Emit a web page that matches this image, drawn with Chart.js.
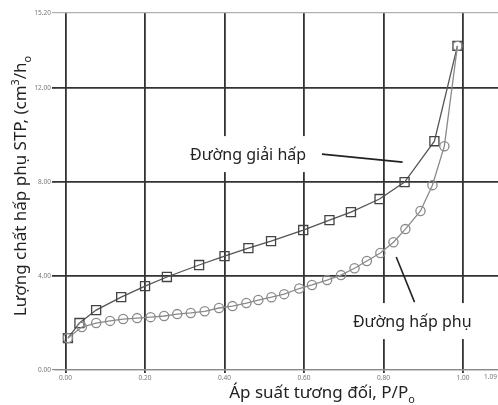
<!DOCTYPE html>
<html>
<head>
<meta charset="utf-8">
<script src="https://cdn.jsdelivr.net/npm/chart.js@4/dist/chart.umd.min.js"></script>
<style>
  html, body { margin: 0; padding: 0; background: #fff; }
  #wrap { width: 498px; height: 405px; }
</style>
</head>
<body>
<div id="wrap"><canvas id="isotherm"></canvas></div>
<script>
// nhánh hấp phụ (tròn) và giải hấp (vuông)
const hapPhuX = [0.006, 0.041, 0.077, 0.112, 0.145, 0.180, 0.214, 0.248, 0.281, 0.315, 0.350, 0.386, 0.420, 0.455, 0.485,
                 0.518, 0.550, 0.588, 0.620, 0.658, 0.693, 0.727, 0.758, 0.792, 0.825, 0.855, 0.893, 0.923, 0.953, 0.986];
const hapPhuY = [1.36, 1.83, 2.00, 2.09, 2.17, 2.21, 2.25, 2.30, 2.38, 2.43, 2.50, 2.64, 2.72, 2.85, 2.98,
                 3.10, 3.23, 3.47, 3.62, 3.83, 4.04, 4.33, 4.64, 4.98, 5.44, 6.00, 6.77, 7.87, 9.53, 13.80];
const giaiHapX = [0.006, 0.035, 0.077, 0.140, 0.200, 0.255, 0.336, 0.400, 0.460, 0.517, 0.598, 0.664, 0.718, 0.790, 0.853, 0.928, 0.986];
const giaiHapY = [1.36, 2.00, 2.55, 3.10, 3.57, 3.96, 4.47, 4.85, 5.19, 5.49, 5.96, 6.38, 6.72, 7.28, 8.00, 9.74, 13.80];

const xTicks = [0, 0.2, 0.4, 0.6, 0.8, 1.0, 1.088];
const yTicks = [0, 4, 8, 12, 15.2];

const X_MIN = -0.024, X_MAX = 1.088;
const FONT = '"Noto Sans", "Open Sans", sans-serif';
const TICK_FONT = { family: FONT, size: 6.5 };

const toPoints = (xs, ys) => xs.map((x, i) => ({ x: x, y: ys[i] }));

// nhãn chú thích, toạ độ theo đơn vị dữ liệu
const notes = [
    { text: 'Đường giải hấp', at: [0.313, 9.15], from: [0.645, 9.19], to: [0.848, 8.85] },
    { text: 'Đường hấp phụ', at: [0.723, 2.04], from: [0.832, 4.81], to: [0.878, 2.89] }
];

// vẽ chuỗi có chỉ số trên/dưới, căn giữa tại gốc toạ độ hiện tại
function drawRich(ctx, parts, size) {
    const small = size * 0.64;
    let width = 0;
    parts.forEach(p => {
        ctx.font = `${p[1] ? small : size}px ${FONT}`;
        width += ctx.measureText(p[0]).width;
    });
    let x = -width / 2;
    ctx.textBaseline = 'alphabetic';
    ctx.textAlign = 'left';
    parts.forEach(p => {
        ctx.font = `${p[1] ? small : size}px ${FONT}`;
        const dy = p[1] === 'sup' ? -size * 0.4 : p[1] === 'sub' ? size * 0.3 : 0;
        ctx.fillText(p[0], x, size * 0.35 + dy);
        x += ctx.measureText(p[0]).width;
    });
}

const decorations = {
    id: 'decorations',
    afterDatasetsDraw(chart) {
        const { ctx, scales } = chart;
        const sx = scales.x, sy = scales.y;
        ctx.save();

        // nhãn vạch ở mép phải, đẩy vào trong để không bị cắt
        ctx.fillStyle = '#777';
        ctx.font = `${TICK_FONT.size}px ${TICK_FONT.family}`;
        ctx.textAlign = 'right';
        ctx.textBaseline = 'top';
        xTicks.filter(v => v > 1.01).forEach(v => {
            const label = v.toFixed(2);
            const w = ctx.measureText(label).width;
            const right = Math.min(sx.getPixelForValue(v) + w / 2, chart.width - 1);
            ctx.fillText(label, right, sx.top + 4);
        });

        // tiêu đề trục
        ctx.fillStyle = '#222';
        ctx.save();
        ctx.translate(20, 186);
        ctx.rotate(-Math.PI / 2);
        drawRich(ctx, [['Lượng chất hấp phụ STP, (cm'], ['3', 'sup'], ['/h'], ['o', 'sub']], 17);
        ctx.restore();

        ctx.save();
        ctx.translate(322, 392);
        drawRich(ctx, [['Áp suất tương đối, P/P'], ['o', 'sub']], 17);
        ctx.restore();

        // chú thích và đường dẫn
        ctx.font = `16px ${FONT}`;
        notes.forEach(n => {
            const x = sx.getPixelForValue(n.at[0]);
            const y = sy.getPixelForValue(n.at[1]);
            const w = ctx.measureText(n.text).width;
            ctx.fillStyle = '#fff';
            ctx.fillRect(x - 8, y - 19, w + 16, 36);
            ctx.fillStyle = '#222';
            ctx.textAlign = 'left';
            ctx.textBaseline = 'middle';
            ctx.fillText(n.text, x, y);
            ctx.beginPath();
            ctx.moveTo(sx.getPixelForValue(n.from[0]), sy.getPixelForValue(n.from[1]));
            ctx.lineTo(sx.getPixelForValue(n.to[0]), sy.getPixelForValue(n.to[1]));
            ctx.strokeStyle = '#222';
            ctx.lineWidth = 1.6;
            ctx.stroke();
        });
        ctx.restore();
    }
};

new Chart(document.getElementById('isotherm'), {
    type: 'scatter',
    data: {
        datasets: [
            {
                label: 'Đường hấp phụ',
                data: toPoints(hapPhuX, hapPhuY),
                showLine: true,
                borderColor: '#8a8a8a',
                borderWidth: 1.3,
                pointStyle: 'circle',
                pointRadius: 4.6,
                pointBorderColor: '#8a8a8a',
                pointBorderWidth: 1.3,
                pointBackgroundColor: 'rgba(0,0,0,0)'
            },
            {
                label: 'Đường giải hấp',
                data: toPoints(giaiHapX, giaiHapY),
                showLine: true,
                borderColor: '#555',
                borderWidth: 1.3,
                pointStyle: 'rect',
                pointRadius: 6.4,
                pointBorderColor: '#444',
                pointBorderWidth: 1.3,
                pointBackgroundColor: 'rgba(0,0,0,0)'
            }
        ]
    },
    options: {
        responsive: true,
        maintainAspectRatio: false,
        animation: false,
        layout: { autoPadding: false, padding: { top: 13, right: 0, left: 0, bottom: 0 } },
        plugins: {
            legend: { display: false },
            tooltip: { enabled: false }
        },
        scales: {
            x: {
                type: 'linear',
                min: X_MIN,
                max: X_MAX,
                // vạch 1.09 nằm sát mép nên nhãn của nó do plugin vẽ
                afterBuildTicks: s => { s.ticks = xTicks.filter(v => v <= 1.01).map(v => ({ value: v })); },
                afterFit: s => { s.height = 35; },
                ticks: {
                    autoSkip: false,
                    maxRotation: 0,
                    padding: 1,
                    color: '#777',
                    font: TICK_FONT,
                    callback: v => v.toFixed(2)
                },
                grid: {
                    color: '#333',
                    lineWidth: 1.8,
                    tickLength: 3
                },
                border: { display: true, color: '#8a8a8a', width: 1.2 }
            },
            y: {
                type: 'linear',
                min: 0,
                max: 15.2,
                afterBuildTicks: s => { s.ticks = yTicks.map(v => ({ value: v })); },
                afterFit: s => { s.width = 56; },
                ticks: {
                    padding: 1,
                    color: '#777',
                    font: TICK_FONT,
                    callback: v => v.toFixed(2)
                },
                grid: {
                    color: c => {
                        const v = c.tick ? c.tick.value : 0;
                        if (v === 0) return '#8a8a8a';
                        if (v > 15) return '#b0b0b0';
                        return '#333';
                    },
                    lineWidth: c => (c.tick && (c.tick.value === 0 || c.tick.value > 15) ? 1.2 : 1.8),
                    tickLength: 4
                },
                border: { display: false }
            }
        }
    },
    plugins: [decorations]
});
</script>
</body>
</html>
